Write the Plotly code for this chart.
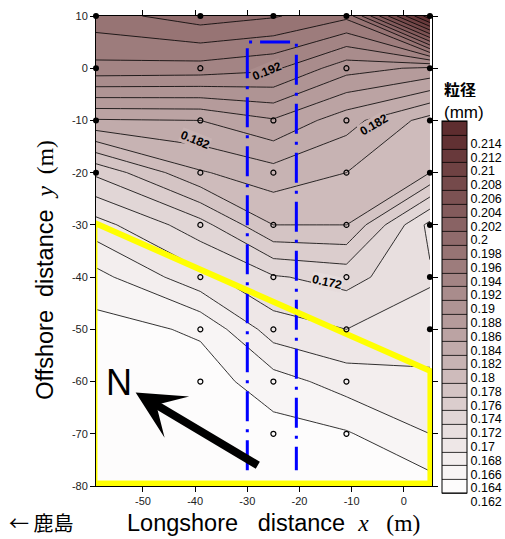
import plotly.graph_objects as go
from plotly.colors import sample_colorscale

# Survey grid: longshore stations (m), offshore rows (m) and median grain size (mm)
x_cols = [-59, -39, -25, -11, 5]
y_rows = [10, 0, -10, -20, -30, -40, -50, -60, -70, -80]
d50 = [
    [0.1972, 0.1990, 0.1982, 0.1965, 0.2155],
    [0.1934, 0.1932, 0.1924, 0.1888, 0.1876],
    [0.1838, 0.1840, 0.1858, 0.1828, 0.1792],
    [0.1744, 0.1798, 0.1812, 0.1800, 0.1780],
    [0.1692, 0.1732, 0.1780, 0.1780, 0.1694],
    [0.1653, 0.1694, 0.1718, 0.1727, 0.1703],
    [0.1632, 0.1643, 0.1690, 0.1700, 0.1688],
    [0.1628, 0.1630, 0.1651, 0.1669, 0.1677],
    [0.1627, 0.1628, 0.1632, 0.1638, 0.1660],
    [0.1627, 0.1628, 0.1629, 0.1630, 0.1632],
]

# Sampling stations inside the field and on its boundary
inner_x = [-39, -11, -39, -25, -11, -39, -25, -11, -39, -25, -11,
           -39, -25, -11, -39, -25, -11, -39, -25, -11, -25, -11]
inner_y = [0, 0, -10, -10, -10, -20, -20, -20, -30, -30, -30,
           -40, -40, -40, -50, -50, -50, -60, -60, -60, -70, -70]
edge_x = [-59, -39, -25, -11, 5, -59, 5, -59, 5, -59, 5, 5, 5, 5]
edge_y = [10, 10, 10, 10, 10, 0, 0, -10, -10, -20, -20, -30, -40, -50]

# Contour levels and colour bar labels
level_start, level_end, level_step = 0.162, 0.216, 0.002
bar_ticks = [round(0.162 + 0.002 * i, 3) for i in range(27)]
bar_text = [f"{v:g}" for v in bar_ticks]

# Labelled contour lines: (value, x, y, angle)
line_labels = [(0.192, -26.2, -0.6, -22), (0.182, -40.0, -13.8, 22),
               (0.182, -5.8, -10.9, -30), (0.172, -14.8, -40.9, 12)]

# Measurement lines (dash-dot) and the highlighted zone
track_x = [-30, -30, -20.6, -20.6]
track_y = [-77, 5, 5, -77]
zone_x = [-59.3, 5.1, 5.1, -59.3, -59.3]
zone_y = [-29.6, -58, -79.5, -79.5, -29.6]

x_ticks = [-50, -40, -30, -20, -10, 0]
y_ticks = [10, 0, -10, -20, -30, -40, -50, -60, -70, -80]

cscale = [[0.0, "#ffffff"], [0.15, "#ece4e4"], [0.33, "#cdbaba"],
          [0.63, "#9e7d7d"], [1.0, "#5e2d2f"]]

FONT = "Liberation Sans, Arial, sans-serif"
SERIF = "Liberation Serif"

fig = go.Figure()
fig.add_trace(go.Contour(
    x=x_cols, y=y_rows, z=d50,
    colorscale=cscale, zmin=level_start, zmax=level_end,
    contours=dict(start=level_start, end=level_end, size=level_step,
                  coloring="fill", showlines=True),
    line=dict(color="black", width=0.8, smoothing=0),
    colorbar=dict(
        x=1.0298, xanchor="left", xpad=0,
        y=0.7766, yanchor="top", ypad=0,
        thickness=25, lenmode="pixels", len=372,
        outlinecolor="black", outlinewidth=1,
        tickvals=bar_ticks, ticktext=bar_text, ticks="",
        ticklabelposition="outside bottom",
        tickfont=dict(family=FONT, size=12.5, color="black"),
    ),
    hoverinfo="skip",
))

# dash-dot measurement lines
fig.add_trace(go.Scatter(
    x=track_x, y=track_y, mode="lines",
    line=dict(color="#0000ff", width=3, dash="30px,8px,3px,8px"),
    hoverinfo="skip", showlegend=False,
))
# highlighted zone
fig.add_trace(go.Scatter(
    x=zone_x, y=zone_y, mode="lines",
    line=dict(color="#ffff00", width=6),
    hoverinfo="skip", showlegend=False,
))
# stations
fig.add_trace(go.Scatter(
    x=inner_x, y=inner_y, mode="markers", cliponaxis=False,
    marker=dict(symbol="circle-open", size=5, color="black",
                line=dict(width=1.2, color="black")),
    hoverinfo="skip", showlegend=False,
))
fig.add_trace(go.Scatter(
    x=edge_x, y=edge_y, mode="markers", cliponaxis=False,
    marker=dict(symbol="circle", size=6, color="black"),
    hoverinfo="skip", showlegend=False,
))

annotations = []
for val, lx, ly, ang in line_labels:
    bg = sample_colorscale(cscale, [(val - level_start) / (level_end - level_start)])[0]
    annotations.append(dict(
        x=lx, y=ly, xref="x", yref="y", text=f"<b>{val:g}</b>", showarrow=False,
        textangle=ang, bgcolor=bg, borderpad=0,
        font=dict(family=FONT, size=12, color="black"),
    ))

# north arrow
annotations.append(dict(
    x=-51.4, y=-62.1, ax=-27.7, ay=-76.2, xref="x", yref="y",
    axref="x", ayref="y", text="", showarrow=True,
    arrowhead=3, arrowsize=1.0, arrowwidth=8, arrowcolor="black",
))
annotations.append(dict(
    x=-54.6, y=-60.2, xref="x", yref="y", text="N", showarrow=False,
    font=dict(family=FONT, size=36, color="black"),
))

# axis titles
annotations.append(dict(
    x=0.527, y=-0.0787, xref="paper", yref="paper", showarrow=False,
    xanchor="center", yanchor="middle",
    text=("Longshore\u00a0\u00a0\u00a0distance\u00a0\u00a0"
          f"<span style=\"font-family:'{SERIF}'\"><i>x</i>\u00a0\u00a0\u00a0(m)</span>"),
    font=dict(family=FONT, size=23.5, color="black"),
))
annotations.append(dict(
    x=-0.165, y=-0.0787, xref="paper", yref="paper", showarrow=False,
    xanchor="center", yanchor="middle",
    text="← 鹿島",
    font=dict(family="Noto Sans CJK JP", size=20, color="black"),
))
annotations.append(dict(
    x=-0.152, y=0.46, xref="paper", yref="paper", showarrow=False,
    xanchor="center", yanchor="middle", textangle=-90,
    text=("Offshore\u00a0\u00a0distance\u00a0\u00a0"
          f"<span style=\"font-family:'{SERIF}'\"><i>y</i>\u00a0\u00a0(m)</span>"),
    font=dict(family=FONT, size=23.5, color="black"),
))
# colour bar title, two lines
annotations.append(dict(
    x=1.0298, y=1.0, xref="paper", yref="paper", xanchor="left", yanchor="middle",
    yshift=-73, showarrow=False, height=16,
    text="<b>粒径</b>",
    font=dict(family="Noto Sans CJK JP", size=16, color="black"),
))
annotations.append(dict(
    x=1.0298, y=1.0, xref="paper", yref="paper", xanchor="left", yanchor="middle",
    yshift=-96, showarrow=False, height=17,
    text="(mm)",
    font=dict(family=FONT, size=17, color="black"),
))

axis_common = dict(
    showgrid=False, zeroline=False, showline=True, linecolor="black",
    linewidth=1, mirror="ticks", ticks="outside", ticklen=5,
    tickcolor="black", tickfont=dict(family=FONT, size=11, color="#222"),
)
fig.update_layout(
    width=505, height=539,
    margin=dict(l=96, r=73, t=16, b=53, autoexpand=False),
    paper_bgcolor="white", plot_bgcolor="white",
    showlegend=False,
    xaxis=dict(range=[-59, 5.4], tickvals=x_ticks,
               ticktext=[str(v) for v in x_ticks], **axis_common),
    yaxis=dict(range=[-80, 10], tickvals=y_ticks,
               ticktext=[str(v) for v in y_ticks], **axis_common),
    annotations=annotations,
)

fig.write_html("out.html")
